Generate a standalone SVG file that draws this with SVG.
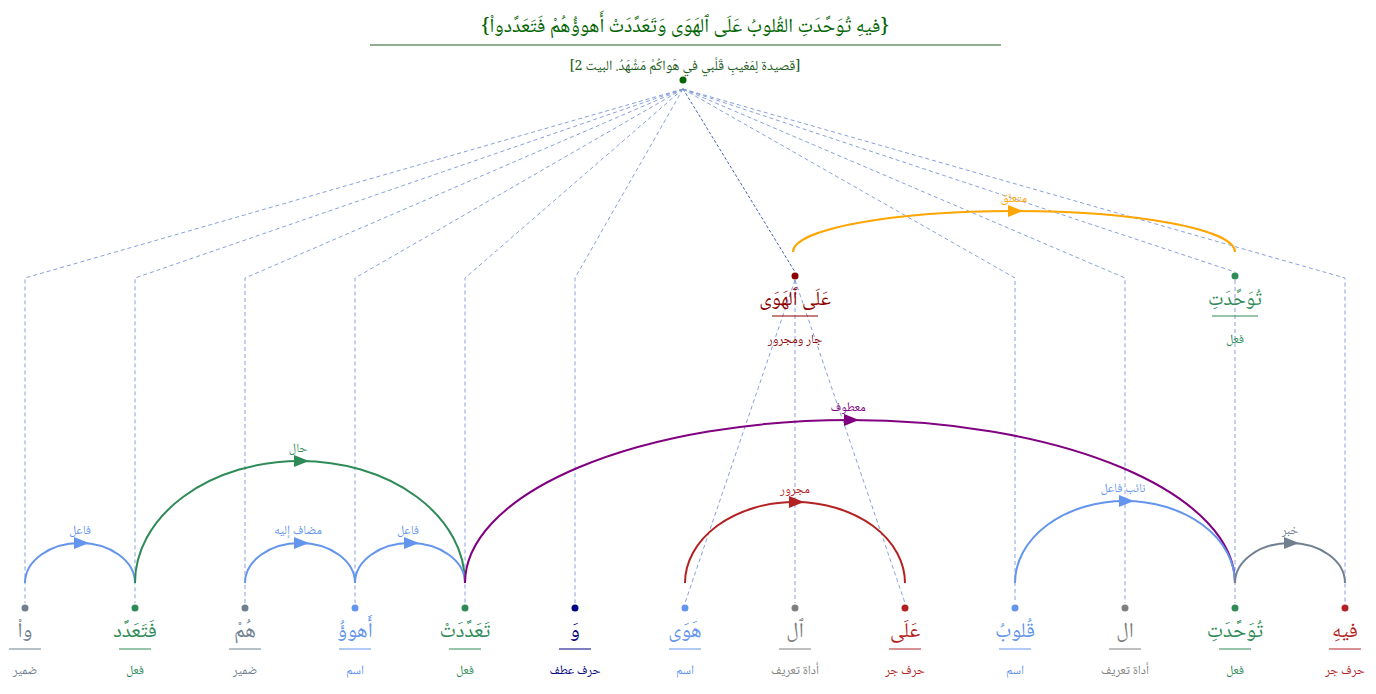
<svg xmlns="http://www.w3.org/2000/svg" width="1376" height="694" viewBox="0 0 1376 694">
<style>
.ar{font-family:"Noto Naskh Arabic","Amiri","DejaVu Sans",sans-serif;direction:rtl;text-anchor:middle}
.w{font-size:21px}
.pos{font-size:12.5px}
.lbl{font-size:12.5px}
.dl{fill:none;stroke:#7b96d6;stroke-width:0.9;stroke-dasharray:4 3}
.dk{fill:none;stroke:#3f63b5;stroke-width:1;stroke-dasharray:3 2}
.arc{fill:none;stroke-width:2}
</style>
<rect width="1376" height="694" fill="#fff"/>
<g id="header">
<text class="ar" x="685" y="32" font-size="20" fill="#006400">{فيهِ تُوَحَّدَتِ القُلوبُ عَلَى ٱلهَوَى وَتَعَدَّدَتْ أَهوؤُهُمْ فَتَعَدَّدواْ}</text>
<line x1="370" y1="45" x2="1001" y2="45" stroke="#1f5e1f" stroke-width="1"/>
<text class="ar" x="685" y="70" font-size="14" fill="#1a5a1a">[قصيدة لِمَغيبِ قَلْبي في هَواكُمْ مَشْهَدُ. البيت 2]</text>
<circle cx="683" cy="80" r="3.5" fill="#006400"/>
</g>
<g id="connectors">
<path class="dl" d="M683 89 L25 278 L25 603"/>
<path class="dl" d="M683 89 L135 278 L135 603"/>
<path class="dl" d="M683 89 L245 278 L245 603"/>
<path class="dl" d="M683 89 L355 278 L355 603"/>
<path class="dl" d="M683 89 L465 278 L465 603"/>
<path class="dl" d="M683 89 L575 278 L575 603"/>
<path class="dk" d="M683 89 L795 272"/>
<path class="dl" d="M683 89 L1015 278 L1015 603"/>
<path class="dl" d="M683 89 L1125 278 L1125 603"/>
<path class="dl" d="M683 89 L1235 272"/>
<path class="dl" d="M683 89 L1345 278 L1345 603"/>
<path class="dl" d="M795 280 L685 603"/>
<path class="dl" d="M795 280 L795 603"/>
<path class="dl" d="M795 280 L905 603"/>
<path class="dl" d="M1235 280 L1235 603"/>
<path class="arc" stroke="#FFA500" d="M793 252 A221 41 0 0 1 1235 252"/>
<polygon fill="#FFA500" points="1008,205 1023,211 1008,217"/>
<text class="ar lbl" x="1014" y="202" fill="#FFA500">متعلق</text>
<path class="arc" stroke="#6495ED" d="M25 583 A55 40 0 0 1 135 583"/>
<polygon fill="#6495ED" points="74,537 89,543 74,549"/>
<text class="ar lbl" x="80" y="534" fill="#6495ED">فاعل</text>
<path class="arc" stroke="#2E8B57" d="M135 583 A165 122 0 0 1 465 583"/>
<polygon fill="#2E8B57" points="294,455 309,461 294,467"/>
<text class="ar lbl" x="298" y="452" fill="#2E8B57">حال</text>
<path class="arc" stroke="#6495ED" d="M245 583 A55 40 0 0 1 355 583"/>
<polygon fill="#6495ED" points="294,537 309,543 294,549"/>
<text class="ar lbl" x="298" y="534" fill="#6495ED">مضاف إليه</text>
<path class="arc" stroke="#6495ED" d="M355 583 A55 40 0 0 1 465 583"/>
<polygon fill="#6495ED" points="404,537 419,543 404,549"/>
<text class="ar lbl" x="408" y="534" fill="#6495ED">فاعل</text>
<path class="arc" stroke="#800080" d="M465 583 A385 163 0 0 1 1235 583"/>
<polygon fill="#800080" points="844,414 859,420 844,426"/>
<text class="ar lbl" x="848" y="411" fill="#800080">معطوف</text>
<path class="arc" stroke="#B22222" d="M685 583 A110 81 0 0 1 905 583"/>
<polygon fill="#B22222" points="789,496 804,502 789,508"/>
<text class="ar lbl" x="795" y="493" fill="#B22222">مجرور</text>
<path class="arc" stroke="#6495ED" d="M1015 583 A110 82 0 0 1 1235 583"/>
<polygon fill="#6495ED" points="1119,495 1134,501 1119,507"/>
<text class="ar lbl" x="1123" y="492" fill="#6495ED">نائب فاعل</text>
<path class="arc" stroke="#708090" d="M1235 583 A55 40 0 0 1 1345 583"/>
<polygon fill="#708090" points="1284,537 1299,543 1284,549"/>
<text class="ar lbl" x="1290" y="534" fill="#708090">خبر</text>
</g>
<g id="phrase-ala-alhawa">
<circle cx="795" cy="276" r="3.5" fill="#8B0000"/>
<text class="ar" x="795" y="305" font-size="20" fill="#8B0000">عَلَى ٱلهَوَى</text>
<line x1="772" y1="316" x2="818" y2="316" stroke="#8B0000" stroke-width="1.2"/>
<text class="ar pos" x="795" y="343" fill="#8B0000">جار ومجرور</text>
</g>
<g id="phrase-tawahhadat">
<circle cx="1235" cy="276" r="3.5" fill="#2E8B57"/>
<text class="ar" x="1235" y="305" font-size="20" fill="#2E8B57">تُوَحَّدَتِ</text>
<line x1="1212" y1="316" x2="1258" y2="316" stroke="#2E8B57" stroke-width="1.2"/>
<text class="ar pos" x="1235" y="343" fill="#2E8B57">فعل</text>
</g>
<g id="w1"><circle cx="25" cy="608" r="3.5" fill="#708090"/><text class="ar w" x="25" y="637" fill="#708090">واْ</text><line x1="9" y1="649" x2="41" y2="649" stroke="#708090"/><text class="ar pos" x="25" y="674" fill="#708090">ضمير</text></g>
<g id="w2"><circle cx="135" cy="608" r="3.5" fill="#2E8B57"/><text class="ar w" x="135" y="637" fill="#2E8B57">فَتَعَدَّد</text><line x1="119" y1="649" x2="151" y2="649" stroke="#2E8B57"/><text class="ar pos" x="135" y="674" fill="#2E8B57">فعل</text></g>
<g id="w3"><circle cx="245" cy="608" r="3.5" fill="#708090"/><text class="ar w" x="245" y="637" fill="#708090">هُمْ</text><line x1="229" y1="649" x2="261" y2="649" stroke="#708090"/><text class="ar pos" x="245" y="674" fill="#708090">ضمير</text></g>
<g id="w4"><circle cx="355" cy="608" r="3.5" fill="#6495ED"/><text class="ar w" x="355" y="637" fill="#6495ED">أَهوؤُ</text><line x1="339" y1="649" x2="371" y2="649" stroke="#6495ED"/><text class="ar pos" x="355" y="674" fill="#6495ED">اسم</text></g>
<g id="w5"><circle cx="465" cy="608" r="3.5" fill="#2E8B57"/><text class="ar w" x="465" y="637" fill="#2E8B57">تَعَدَّدَتْ</text><line x1="449" y1="649" x2="481" y2="649" stroke="#2E8B57"/><text class="ar pos" x="465" y="674" fill="#2E8B57">فعل</text></g>
<g id="w6"><circle cx="575" cy="608" r="3.5" fill="#000080"/><text class="ar w" x="575" y="637" fill="#000080">وَ</text><line x1="559" y1="649" x2="591" y2="649" stroke="#000080"/><text class="ar pos" x="575" y="674" fill="#000080">حرف عطف</text></g>
<g id="w7"><circle cx="685" cy="608" r="3.5" fill="#6495ED"/><text class="ar w" x="685" y="637" fill="#6495ED">هَوَى</text><line x1="669" y1="649" x2="701" y2="649" stroke="#6495ED"/><text class="ar pos" x="685" y="674" fill="#6495ED">اسم</text></g>
<g id="w8"><circle cx="795" cy="608" r="3.5" fill="#808080"/><text class="ar w" x="795" y="637" fill="#808080">ٱل</text><line x1="779" y1="649" x2="811" y2="649" stroke="#808080"/><text class="ar pos" x="795" y="674" fill="#808080">أداة تعريف</text></g>
<g id="w9"><circle cx="905" cy="608" r="3.5" fill="#B22222"/><text class="ar w" x="905" y="637" fill="#B22222">عَلَى</text><line x1="889" y1="649" x2="921" y2="649" stroke="#B22222"/><text class="ar pos" x="905" y="674" fill="#B22222">حرف جر</text></g>
<g id="w10"><circle cx="1015" cy="608" r="3.5" fill="#6495ED"/><text class="ar w" x="1015" y="637" fill="#6495ED">قُلوبُ</text><line x1="999" y1="649" x2="1031" y2="649" stroke="#6495ED"/><text class="ar pos" x="1015" y="674" fill="#6495ED">اسم</text></g>
<g id="w11"><circle cx="1125" cy="608" r="3.5" fill="#808080"/><text class="ar w" x="1125" y="637" fill="#808080">ال</text><line x1="1109" y1="649" x2="1141" y2="649" stroke="#808080"/><text class="ar pos" x="1125" y="674" fill="#808080">أداة تعريف</text></g>
<g id="w12"><circle cx="1235" cy="608" r="3.5" fill="#2E8B57"/><text class="ar w" x="1235" y="637" fill="#2E8B57">تُوَحَّدَتِ</text><line x1="1219" y1="649" x2="1251" y2="649" stroke="#2E8B57"/><text class="ar pos" x="1235" y="674" fill="#2E8B57">فعل</text></g>
<g id="w13"><circle cx="1345" cy="608" r="3.5" fill="#B22222"/><text class="ar w" x="1345" y="637" fill="#B22222">فيهِ</text><line x1="1329" y1="649" x2="1361" y2="649" stroke="#B22222"/><text class="ar pos" x="1345" y="674" fill="#B22222">حرف جر</text></g>
</svg>
